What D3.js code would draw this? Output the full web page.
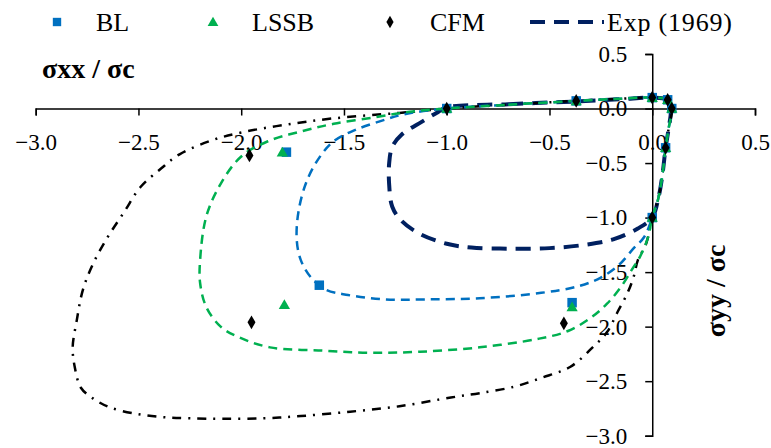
<!DOCTYPE html>
<html>
<head>
<meta charset="utf-8">
<script src="https://cdn.jsdelivr.net/npm/d3@7"></script>
<style>
  html, body { margin: 0; padding: 0; background: #fff; }
  svg text { font-family: "Liberation Serif", "DejaVu Serif", serif; fill: #000; }
</style>
</head>
<body>
<svg id="chart" width="771" height="448"></svg>
<script>
// Axis tick values
const xTicks = [-3.0, -2.5, -2.0, -1.5, -1.0, -0.5, 0.0, 0.5];
const yTicks = [0.5, 0.0, -0.5, -1.0, -1.5, -2.0, -2.5, -3.0];

// Failure envelopes (closed loops, σxx/σc , σyy/σc)
const expLoop = [
  [-1.0, 0.01], [-0.7, 0.04], [-0.37, 0.065], [-0.15, 0.085], [0, 0.1], [0.07, 0.08],
  [0.09, 0.0], [0.08, -0.18], [0.065, -0.36], [0.05, -0.6], [0.03, -0.82], [0, -1.0],
  [-0.07, -1.1], [-0.19, -1.2], [-0.33, -1.25], [-0.5, -1.28], [-0.7, -1.285], [-0.88, -1.275],
  [-1.0, -1.24], [-1.13, -1.15], [-1.22, -1.03], [-1.265, -0.9], [-1.28, -0.7], [-1.28, -0.5],
  [-1.265, -0.35], [-1.22, -0.24], [-1.12, -0.12], [-1.05, -0.04]
];
const blLoop = [
  [-1.0, 0.0], [-0.7, 0.035], [-0.37, 0.07], [-0.15, 0.09], [0, 0.1], [0.075, 0.08],
  [0.095, 0.0], [0.08, -0.18], [0.065, -0.36], [0.05, -0.6], [0.03, -0.82], [0, -1.0],
  [-0.04, -1.18], [-0.09, -1.28], [-0.16, -1.43], [-0.25, -1.55], [-0.36, -1.63], [-0.54, -1.69],
  [-0.84, -1.74], [-1.1, -1.75], [-1.3, -1.75], [-1.48, -1.71], [-1.59, -1.66], [-1.66, -1.55],
  [-1.71, -1.39], [-1.73, -1.2], [-1.72, -0.93], [-1.68, -0.66], [-1.62, -0.45], [-1.55, -0.3],
  [-1.45, -0.2], [-1.33, -0.12], [-1.2, -0.05]
];
const lssbLoop = [
  [-1.0, 0.0], [-0.7, 0.035], [-0.37, 0.07], [-0.15, 0.09], [0, 0.1], [0.075, 0.08],
  [0.095, 0.0], [0.08, -0.18], [0.065, -0.36], [0.05, -0.6], [0.03, -0.82], [0, -1.0],
  [-0.02, -1.18], [-0.06, -1.36], [-0.1, -1.48], [-0.15, -1.63], [-0.22, -1.79], [-0.3, -1.92],
  [-0.41, -2.04], [-0.55, -2.11], [-0.84, -2.19], [-1.13, -2.23], [-1.37, -2.24], [-1.6, -2.22],
  [-1.86, -2.19], [-2.02, -2.09], [-2.1, -2.0], [-2.17, -1.82], [-2.2, -1.6], [-2.2, -1.39],
  [-2.17, -0.99], [-2.1, -0.69], [-2.0, -0.44], [-1.87, -0.3], [-1.71, -0.21], [-1.55, -0.14],
  [-1.35, -0.08], [-1.18, -0.03]
];
const cfmLoop = [
  [-1.0, 0.0], [-0.7, 0.035], [-0.37, 0.07], [-0.15, 0.09], [0, 0.1], [0.075, 0.08],
  [0.095, 0.0], [0.08, -0.18], [0.065, -0.36], [0.05, -0.6], [0.03, -0.82], [0, -1.0],
  [-0.03, -1.24], [-0.07, -1.39], [-0.09, -1.54], [-0.12, -1.69], [-0.17, -1.87], [-0.22, -2.05],
  [-0.29, -2.19], [-0.4, -2.37], [-0.54, -2.47], [-0.67, -2.55], [-0.84, -2.61], [-0.98, -2.65],
  [-1.23, -2.73], [-1.47, -2.78], [-1.71, -2.82], [-1.89, -2.84], [-2.09, -2.845], [-2.25, -2.84],
  [-2.38, -2.83], [-2.51, -2.8], [-2.64, -2.74], [-2.72, -2.66], [-2.78, -2.56], [-2.81, -2.37],
  [-2.82, -2.19], [-2.8, -1.94], [-2.77, -1.66], [-2.72, -1.42], [-2.65, -1.18], [-2.57, -0.95],
  [-2.49, -0.72], [-2.39, -0.55], [-2.3, -0.42], [-2.14, -0.29], [-2.0, -0.22], [-1.79, -0.15],
  [-1.55, -0.09], [-1.23, -0.04]
];

// Computed stress states
const blPoints = [
  [-1.0, 0.0], [-0.37, 0.07], [0, 0.1], [0.075, 0.08], [0.095, 0.0], [0.065, -0.36], [0, -1.0],
  [-1.78, -0.4], [-1.62, -1.62], [-0.39, -1.78]
];
const lssbPoints = [
  [-1.0, 0.0], [-0.37, 0.07], [0, 0.1], [0.075, 0.08], [0.095, 0.0], [0.065, -0.36], [0, -1.0],
  [-1.8, -0.4], [-1.79, -1.8], [-0.39, -1.82]
];
const cfmPoints = [
  [-1.0, 0.0], [-0.37, 0.07], [0, 0.1], [0.075, 0.08], [0.095, 0.0], [0.065, -0.36], [0, -1.0],
  [-1.96, -0.43], [-1.95, -1.96], [-0.43, -1.97]
];

const legendLabels = ["BL", "LSSB", "CFM", "Exp (1969)"];

const BLUE = "#0070C0", GREEN = "#00B050", BLACK = "#000000", NAVY = "#002060";
const FONT = "'Liberation Serif', 'DejaVu Serif', serif";

const svg = d3.select("#chart");

const x = d3.scaleLinear().domain([-3.0, 0.5]).range([35.7, 755]);
const y = d3.scaleLinear().domain([0.5, -3.0]).range([54, 435.7]);

// Axes crossing at the origin
const fmt = d => d3.format(".1f")(d).replace("-", "\u2212");
const xAxis = d3.axisBottom(x).tickValues(xTicks).tickSize(7).tickPadding(18).tickFormat(fmt);
const yAxis = d3.axisLeft(y).tickValues(yTicks).tickSize(7).tickPadding(18).tickFormat(fmt);

const gx = svg.append("g").attr("transform", `translate(0,${y(0)})`).call(xAxis);
const gy = svg.append("g").attr("transform", `translate(${x(0)},0)`).call(yAxis);
[gx, gy].forEach(g => {
  g.attr("font-family", FONT).attr("font-size", 23);
  g.select(".domain").attr("stroke", "#000").attr("stroke-width", 1.5);
  g.selectAll(".tick line").attr("stroke", "#000").attr("stroke-width", 1.5);
  g.selectAll(".tick text").attr("fill", "#000");
});

// Envelope curves
const line = d3.line().x(d => x(d[0])).y(d => y(d[1])).curve(d3.curveCatmullRomClosed.alpha(0.5));
const curves = svg.append("g").attr("fill", "none");
curves.append("path").datum(expLoop).attr("d", line)
  .attr("stroke", NAVY).attr("stroke-width", 4).attr("stroke-dasharray", "15,9");
curves.append("path").datum(cfmLoop).attr("d", line)
  .attr("stroke", BLACK).attr("stroke-width", 2.5).attr("stroke-dasharray", "9,7,2,7");
curves.append("path").datum(blLoop).attr("d", line)
  .attr("stroke", BLUE).attr("stroke-width", 2.5).attr("stroke-dasharray", "9,6");
curves.append("path").datum(lssbLoop).attr("d", line)
  .attr("stroke", GREEN).attr("stroke-width", 2.5).attr("stroke-dasharray", "9,6");

// Markers
const sq = d3.symbol().type(d3.symbolSquare).size(90);
const tri = d3.symbol().type(d3.symbolTriangle).size(55);
const dia = d3.symbol().type(d3.symbolDiamond).size(55);
const marks = svg.append("g");
marks.selectAll(".bl").data(blPoints).join("path").attr("d", sq)
  .attr("transform", d => `translate(${x(d[0])},${y(d[1])})`).attr("fill", BLUE);
marks.selectAll(".lssb").data(lssbPoints).join("path").attr("d", tri)
  .attr("transform", d => `translate(${x(d[0])},${y(d[1]) + 1})`).attr("fill", GREEN);
marks.selectAll(".cfm").data(cfmPoints).join("path").attr("d", dia)
  .attr("transform", d => `translate(${x(d[0])},${y(d[1])})`).attr("fill", BLACK);

// Axis titles
svg.append("text").attr("x", 42).attr("y", 78).attr("font-size", 28).attr("font-weight", "bold")
  .text("σxx / σc");
svg.append("text").attr("transform", "translate(725,291) rotate(-90)")
  .attr("text-anchor", "middle").attr("font-size", 28).attr("font-weight", "bold")
  .text("σyy / σc");

// Legend
const lg = svg.append("g").attr("font-size", 26);
lg.append("path").attr("d", d3.symbol().type(d3.symbolSquare).size(70)).attr("transform", "translate(57,22)").attr("fill", BLUE);
lg.append("text").attr("x", 96).attr("y", 31).text(legendLabels[0]);
lg.append("path").attr("d", d3.symbol().type(d3.symbolTriangle).size(50)).attr("transform", "translate(213,23)").attr("fill", GREEN);
lg.append("text").attr("x", 252).attr("y", 31).text(legendLabels[1]);
lg.append("path").attr("d", d3.symbol().type(d3.symbolDiamond).size(45)).attr("transform", "translate(390,22)").attr("fill", BLACK);
lg.append("text").attr("x", 430).attr("y", 31).text(legendLabels[2]);
lg.append("line").attr("x1", 530).attr("x2", 604).attr("y1", 22).attr("y2", 22)
  .attr("stroke", NAVY).attr("stroke-width", 4).attr("stroke-dasharray", "15,9");
lg.append("text").attr("x", 607).attr("y", 31).attr("letter-spacing", 0.8).text(legendLabels[3]);
</script>
</body>
</html>
